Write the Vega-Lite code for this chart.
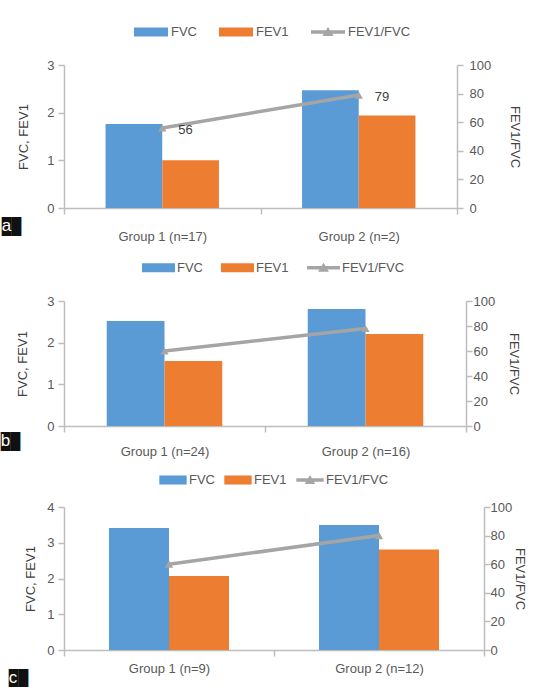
{
  "$schema": "https://vega.github.io/schema/vega-lite/v6.json",
  "padding": {"left": 0, "top": 15, "right": 4, "bottom": 0},
  "data": {"values": [
    {"panel": "a", "group": "Group 1 (n=17)", "measure": "FVC", "value": 1.76},
    {"panel": "a", "group": "Group 1 (n=17)", "measure": "FEV1", "value": 1.0},
    {"panel": "a", "group": "Group 1 (n=17)", "measure": "FEV1/FVC", "value": 56},
    {"panel": "a", "group": "Group 2 (n=2)", "measure": "FVC", "value": 2.47},
    {"panel": "a", "group": "Group 2 (n=2)", "measure": "FEV1", "value": 1.94},
    {"panel": "a", "group": "Group 2 (n=2)", "measure": "FEV1/FVC", "value": 79},
    {"panel": "b", "group": "Group 1 (n=24)", "measure": "FVC", "value": 2.52},
    {"panel": "b", "group": "Group 1 (n=24)", "measure": "FEV1", "value": 1.56},
    {"panel": "b", "group": "Group 1 (n=24)", "measure": "FEV1/FVC", "value": 60},
    {"panel": "b", "group": "Group 2 (n=16)", "measure": "FVC", "value": 2.81},
    {"panel": "b", "group": "Group 2 (n=16)", "measure": "FEV1", "value": 2.21},
    {"panel": "b", "group": "Group 2 (n=16)", "measure": "FEV1/FVC", "value": 78},
    {"panel": "c", "group": "Group 1 (n=9)", "measure": "FVC", "value": 3.41},
    {"panel": "c", "group": "Group 1 (n=9)", "measure": "FEV1", "value": 2.07},
    {"panel": "c", "group": "Group 1 (n=9)", "measure": "FEV1/FVC", "value": 60},
    {"panel": "c", "group": "Group 2 (n=12)", "measure": "FVC", "value": 3.5},
    {"panel": "c", "group": "Group 2 (n=12)", "measure": "FEV1", "value": 2.81},
    {"panel": "c", "group": "Group 2 (n=12)", "measure": "FEV1/FVC", "value": 80}
  ]},
  "spacing": 8,
  "vconcat": [
    {
      "width": 393, "height": 143,
      "title": {"text": "██", "subtitle": "\u00a0a"},
      "transform": [{"filter": "datum.panel === 'a'"}],
      "layer": [
        {
          "mark": {"type": "bar"},
          "transform": [{"filter": "datum.measure !== 'FEV1/FVC'"}],
          "encoding": {
            "x": {"field": "group", "type": "nominal", "scale": {"paddingInner": 0, "paddingOuter": 0}, "axis": {"title": null, "labelAngle": 0, "tickBand": "extent", "labelPadding": 16}},
            "xOffset": {"field": "measure", "type": "nominal", "sort": ["FVC", "FEV1"], "scale": {"domain": ["FVC", "FEV1"], "paddingInner": 0, "paddingOuter": 0.733}},
            "y": {"field": "value", "type": "quantitative", "scale": {"domain": [0, 3]}, "axis": {"values": [0, 1, 2, 3], "title": "FVC, FEV1", "titlePadding": 16}},
            "fill": {"field": "measure", "type": "nominal", "scale": {"domain": ["FVC", "FEV1"], "range": ["#5B9BD5", "#ED7D31"]}, "legend": null}
          }
        },
        {
          "transform": [{"filter": "datum.measure === 'FEV1/FVC'"}],
          "encoding": {
            "x": {"field": "group", "type": "nominal"},
            "y": {"field": "value", "type": "quantitative", "scale": {"domain": [0, 100]}, "axis": {"orient": "right", "values": [0, 20, 40, 60, 80, 100], "title": "FEV1/FVC", "labelPadding": 6, "titlePadding": 17}}
          },
          "layer": [
            {"mark": {"type": "line", "color": "#A5A5A5", "strokeWidth": 3.5}, "encoding": {}},
            {"mark": {"type": "point", "shape": "triangle-up", "filled": true, "opacity": 1, "size": 70, "color": "#A5A5A5"}, "encoding": {}},
            {
              "mark": {"type": "point", "filled": true, "opacity": 1, "strokeWidth": 0, "size": 0},
              "encoding": {
                "color": {"field": "measure", "type": "nominal", "scale": {"domain": ["FVC", "FEV1", "FEV1/FVC"], "range": ["#5B9BD5", "#ED7D31", "#A5A5A5"]}, "legend": {"orient": "top", "direction": "horizontal", "title": "xxx", "titleOrient": "left", "titleFontSize": 13, "titleColor": "#ffffff", "titleOpacity": 0, "titlePadding": 1, "symbolSize": 1156, "symbolStrokeWidth": 0, "symbolOpacity": 1, "labelOffset": 3, "columnPadding": 22, "offset": 26}},
                "shape": {"field": "measure", "type": "nominal", "scale": {"domain": ["FVC", "FEV1", "FEV1/FVC"], "range": ["M-1,-0.27H1V0.27H-1Z", "M-1,-0.27H1V0.27H-1Z", "M-1,-0.11H1V0.11H-1ZM-0.33,0.24L0,-0.3L0.33,0.24Z"]}, "legend": {"orient": "top", "direction": "horizontal", "title": "xxx", "titleOrient": "left", "titleFontSize": 13, "titleColor": "#ffffff", "titleOpacity": 0, "titlePadding": 1, "symbolSize": 1156, "symbolStrokeWidth": 0, "symbolOpacity": 1, "labelOffset": 3, "columnPadding": 22, "offset": 26}}
              }
            },
            {
              "mark": {"type": "text", "align": "left", "baseline": "middle", "dx": 16, "dy": 2, "fontSize": 13, "color": "#404040"},
              "encoding": {"text": {"field": "value", "type": "quantitative"}}
            }
          ]
        }
      ],
      "resolve": {"scale": {"y": "independent"}}
    },
    {
      "width": 402, "height": 125,
      "title": {"text": "██", "subtitle": "\u00a0b"},
      "transform": [{"filter": "datum.panel === 'b'"}],
      "layer": [
        {
          "mark": {"type": "bar"},
          "transform": [{"filter": "datum.measure !== 'FEV1/FVC'"}],
          "encoding": {
            "x": {"field": "group", "type": "nominal", "scale": {"paddingInner": 0, "paddingOuter": 0}, "axis": {"title": null, "labelAngle": 0, "tickBand": "extent", "labelPadding": 13}},
            "xOffset": {"field": "measure", "type": "nominal", "sort": ["FVC", "FEV1"], "scale": {"domain": ["FVC", "FEV1"], "paddingInner": 0, "paddingOuter": 0.74}},
            "y": {"field": "value", "type": "quantitative", "scale": {"domain": [0, 3]}, "axis": {"values": [0, 1, 2, 3], "title": "FVC, FEV1", "titlePadding": 17}},
            "fill": {"field": "measure", "type": "nominal", "scale": {"domain": ["FVC", "FEV1"], "range": ["#5B9BD5", "#ED7D31"]}, "legend": null}
          }
        },
        {
          "transform": [{"filter": "datum.measure === 'FEV1/FVC'"}],
          "encoding": {
            "x": {"field": "group", "type": "nominal"},
            "y": {"field": "value", "type": "quantitative", "scale": {"domain": [0, 100]}, "axis": {"orient": "right", "values": [0, 20, 40, 60, 80, 100], "title": "FEV1/FVC", "labelPadding": 1, "titlePadding": 12}}
          },
          "layer": [
            {"mark": {"type": "line", "color": "#A5A5A5", "strokeWidth": 3.5}, "encoding": {}},
            {"mark": {"type": "point", "shape": "triangle-up", "filled": true, "opacity": 1, "size": 70, "color": "#A5A5A5"}, "encoding": {}},
            {
              "mark": {"type": "point", "filled": true, "opacity": 1, "strokeWidth": 0, "size": 0},
              "encoding": {
                "color": {"field": "measure", "type": "nominal", "scale": {"domain": ["FVC", "FEV1", "FEV1/FVC"], "range": ["#5B9BD5", "#ED7D31", "#A5A5A5"]}, "legend": {"orient": "top", "direction": "horizontal", "title": "xx", "titleOrient": "left", "titleFontSize": 13, "titleColor": "#ffffff", "titleOpacity": 0, "titlePadding": 2, "symbolSize": 1089, "symbolStrokeWidth": 0, "symbolOpacity": 1, "labelOffset": 2, "columnPadding": 18, "offset": 26}},
                "shape": {"field": "measure", "type": "nominal", "scale": {"domain": ["FVC", "FEV1", "FEV1/FVC"], "range": ["M-1,-0.27H1V0.27H-1Z", "M-1,-0.27H1V0.27H-1Z", "M-1,-0.11H1V0.11H-1ZM-0.33,0.24L0,-0.3L0.33,0.24Z"]}, "legend": {"orient": "top", "direction": "horizontal", "title": "xx", "titleOrient": "left", "titleFontSize": 13, "titleColor": "#ffffff", "titleOpacity": 0, "titlePadding": 2, "symbolSize": 1089, "symbolStrokeWidth": 0, "symbolOpacity": 1, "labelOffset": 2, "columnPadding": 18, "offset": 26}}
              }
            }
          ]
        }
      ],
      "resolve": {"scale": {"y": "independent"}}
    },
    {
      "width": 420, "height": 143,
      "title": {"text": "██", "subtitle": "\u00a0c", "offset": -4},
      "transform": [{"filter": "datum.panel === 'c'"}],
      "layer": [
        {
          "mark": {"type": "bar"},
          "transform": [{"filter": "datum.measure !== 'FEV1/FVC'"}],
          "encoding": {
            "x": {"field": "group", "type": "nominal", "scale": {"paddingInner": 0, "paddingOuter": 0}, "axis": {"title": null, "labelAngle": 0, "tickBand": "extent", "labelPadding": 6}},
            "xOffset": {"field": "measure", "type": "nominal", "sort": ["FVC", "FEV1"], "scale": {"domain": ["FVC", "FEV1"], "paddingInner": 0, "paddingOuter": 0.75}},
            "y": {"field": "value", "type": "quantitative", "scale": {"domain": [0, 4]}, "axis": {"values": [0, 1, 2, 3, 4], "title": "FVC, FEV1", "titlePadding": 9}},
            "fill": {"field": "measure", "type": "nominal", "scale": {"domain": ["FVC", "FEV1"], "range": ["#5B9BD5", "#ED7D31"]}, "legend": null}
          }
        },
        {
          "transform": [{"filter": "datum.measure === 'FEV1/FVC'"}],
          "encoding": {
            "x": {"field": "group", "type": "nominal"},
            "y": {"field": "value", "type": "quantitative", "scale": {"domain": [0, 100]}, "axis": {"orient": "right", "values": [0, 20, 40, 60, 80, 100], "title": "FEV1/FVC", "labelPadding": 0, "titlePadding": 1}}
          },
          "layer": [
            {"mark": {"type": "line", "color": "#A5A5A5", "strokeWidth": 3.5}, "encoding": {}},
            {"mark": {"type": "point", "shape": "triangle-up", "filled": true, "opacity": 1, "size": 70, "color": "#A5A5A5"}, "encoding": {}},
            {
              "mark": {"type": "point", "filled": true, "opacity": 1, "strokeWidth": 0, "size": 0},
              "encoding": {
                "color": {"field": "measure", "type": "nominal", "scale": {"domain": ["FVC", "FEV1", "FEV1/FVC"], "range": ["#5B9BD5", "#ED7D31", "#A5A5A5"]}, "legend": {"orient": "top", "direction": "horizontal", "title": null, "symbolSize": 750, "symbolStrokeWidth": 0, "symbolOpacity": 1, "labelOffset": 2, "columnPadding": 9, "offset": 20}},
                "shape": {"field": "measure", "type": "nominal", "scale": {"domain": ["FVC", "FEV1", "FEV1/FVC"], "range": ["M-1,-0.33H1V0.33H-1Z", "M-1,-0.33H1V0.33H-1Z", "M-1,-0.13H1V0.13H-1ZM-0.38,0.3L0,-0.36L0.38,0.3Z"]}, "legend": {"orient": "top", "direction": "horizontal", "title": null, "symbolSize": 750, "symbolStrokeWidth": 0, "symbolOpacity": 1, "labelOffset": 2, "columnPadding": 9, "offset": 20}}
              }
            }
          ]
        }
      ],
      "resolve": {"scale": {"y": "independent"}}
    }
  ],
  "resolve": {"scale": {"color": "independent", "shape": "independent", "fill": "independent", "x": "independent", "y": "independent", "xOffset": "independent"}, "legend": {"color": "independent", "shape": "independent"}},
  "config": {
    "font": "Liberation Sans",
    "view": {"stroke": null},
    "axis": {"labelFontSize": 13, "labelColor": "#595959", "titleFontSize": 13, "titleColor": "#404040", "titleFontWeight": "normal", "domainColor": "#BDBDBD", "domainWidth": 1.5, "tickColor": "#BDBDBD", "tickWidth": 1.5, "tickSize": 6, "grid": false, "labelPadding": 4},
    "legend": {"labelFontSize": 13, "labelColor": "#595959", "layout": {"top": {"anchor": "middle"}}},
    "title": {"orient": "bottom", "anchor": "start", "frame": "bounds", "font": "DejaVu Sans Mono", "fontSize": 16, "fontWeight": "normal", "color": "#111111", "subtitleFont": "Liberation Sans", "subtitleFontSize": 17, "subtitleColor": "#ffffff", "subtitlePadding": -17, "offset": -24, "dx": -16}
  }
}
